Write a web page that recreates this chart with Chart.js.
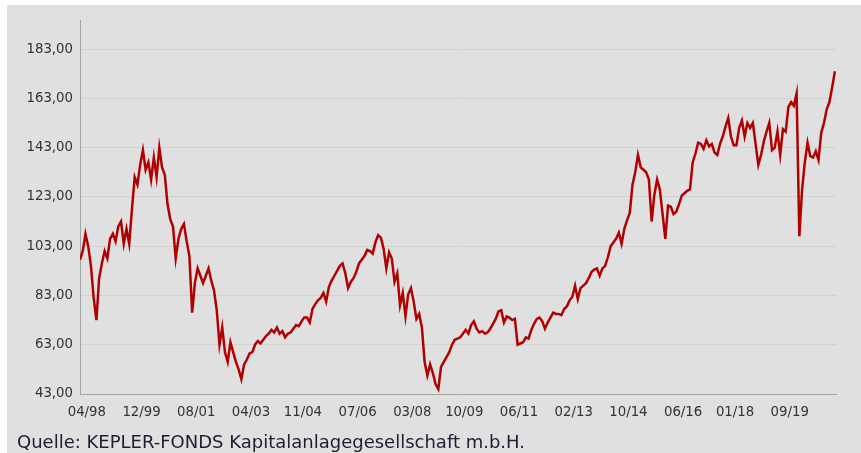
<!DOCTYPE html>
<html lang="de">
<head>
    <meta charset="UTF-8">
    <title>KEPLER-FONDS Wertentwicklung</title>
    <script src="https://cdn.jsdelivr.net/npm/chart.js"></script>
    <style>
        html, body { margin: 0; padding: 0; background: #fff; }
        body { width: 861px; height: 453px; position: relative; overflow: hidden; }
        #panel { position: absolute; left: 7px; top: 5px; right: 0; bottom: 0; background: #e0e0e0; }
        #chart { position: absolute; left: 0; top: 0; }
        #quelle {
            position: absolute; left: 17px; top: 433px;
            font: 18px/18px 'DejaVu Sans', Verdana, sans-serif;
            color: #1c1f33; white-space: nowrap;
        }
    </style>
</head>
<body>
<div id="panel"></div>
<canvas id="chart" width="861" height="453"></canvas>
<div id="quelle">Quelle: KEPLER-FONDS Kapitalanlagegesellschaft m.b.H.</div>

<script>
    // Monatswerte ab Februar 1998 (Index 0 = 02/98)
    const fundValues = [
        // 1998
        97.5, 101, 108, 103, 95, 82, 73, 90, 96, 101, 98,
        // 1999
        106, 108, 105, 111, 113, 104, 110, 104, 118, 131, 128, 136,
        // 2000
        142, 134, 137, 130, 139, 131, 143, 135, 132, 120, 114, 111,
        // 2001
        98, 106, 110, 112, 105, 99, 76, 88, 94, 91, 88, 91,
        // 2002
        94, 89, 85, 77, 63, 70, 60, 56, 64, 60, 56, 53,
        // 2003
        49, 55, 57, 59.5, 60, 63, 64.5, 63.5, 65, 66.5, 67.5, 69,
        // 2004
        68, 70, 67.5, 68.5, 66, 67.5, 68, 69.5, 71, 70.5, 72.5, 74,
        // 2005
        74, 72, 77.5, 79.5, 81, 82, 84, 80.5, 86.5, 89, 91, 93,
        // 2006
        95, 96, 92, 86, 88.5, 90, 92.5, 96, 97.5, 99, 101.5, 101,
        // 2007
        100, 104.5, 107.5, 106.5, 102, 94, 100.5, 98, 88.5, 92, 79, 84,
        // 2008
        74.5, 83.5, 86, 80.5, 73.5, 75.5, 70, 56, 50.5, 55, 51.5, 47,
        // 2009
        45, 54, 56, 58, 60, 63, 65, 65.5, 66, 67.5, 69, 67.5,
        // 2010
        71, 72.5, 69.5, 68, 68.5, 67.5, 68, 69.5, 71.5, 73.5, 76.5, 77,
        // 2011
        72, 74.5, 74, 73, 73.5, 63, 63.5, 64, 66, 65.5, 69, 71.5,
        // 2012
        73.5, 74, 72.5, 69.5, 72, 74, 76, 75.5, 75.5, 75, 77.5, 78.5,
        // 2013
        81, 82.5, 87, 81.5, 86, 87, 88, 90, 92.5, 93.5, 94, 91,
        // 2014
        94, 95, 98.5, 103, 104.5, 106, 108.5, 104, 110, 113.5, 116.5, 128,
        // 2015
        133, 140, 135, 134, 133, 130, 113, 124, 130, 126, 116, 106,
        // 2016
        119.5, 119, 116, 117, 120, 123.5, 124.5, 125.5, 126, 137, 140.5, 145,
        // 2017
        144.5, 142.5, 146, 143.5, 144.5, 141, 140, 144.5, 147.5, 151.5, 155, 147.5,
        // 2018
        144, 144, 151, 154, 147.5, 153, 151, 153, 144.5, 136, 140, 145.5,
        // 2019
        149.5, 153, 142, 143, 149.5, 140, 150.5, 149.5, 159.5, 161.5, 160, 165,
        // 2020
        107, 126, 137, 145, 139.5, 139, 141.5, 138, 149, 153, 158.5, 161.5,
        // 2021
        167.5, 174
    ];

    const xTickLabels = ['04/98', '12/99', '08/01', '04/03', '11/04', '07/06', '03/08',
        '10/09', '06/11', '02/13', '10/14', '06/16', '01/18', '09/19'];
    const yTickValues = [43, 63, 83, 103, 123, 143, 163, 183];

    const START_YEAR = 1998, START_MONTH = 2;
    const xMax = 276.4;   // Ende der Zeitachse (Monate ab 02/98)
    const yMin = 43, yMax = 194.8;

    // "MM/JJ" -> Monatsindex (Monatsmitte)
    function monthPos(label) {
        const [mm, yy] = label.split('/').map(Number);
        const year = yy > 50 ? 1900 + yy : 2000 + yy;
        return (year - START_YEAR) * 12 + (mm - START_MONTH) + 0.5;
    }

    const xTickPos = xTickLabels.map(monthPos);
    const points = fundValues.map((v, i) => ({ x: i, y: v }));

    const tickFont = { family: "'DejaVu Sans', Verdana, sans-serif", size: 13.3 };

    const ctx = document.getElementById('chart').getContext('2d');
    new Chart(ctx, {
        type: 'line',
        data: {
            datasets: [{
                data: points,
                borderColor: '#b00000',
                borderWidth: 2.5,
                pointRadius: 0,
                tension: 0,
                fill: false
            }]
        },
        options: {
            responsive: false,
            animation: false,
            devicePixelRatio: 1,
            layout: { padding: { left: 7, right: 25, top: 20, bottom: 34 } },
            plugins: {
                legend: { display: false },
                tooltip: { enabled: false }
            },
            scales: {
                x: {
                    type: 'linear',
                    min: 0,
                    max: xMax,
                    grid: { display: false },
                    border: { display: true, color: '#a4a4a4' },
                    afterBuildTicks: scale => {
                        scale.ticks = xTickPos.map(v => ({ value: v }));
                    },
                    afterFit: scale => { scale.height = 25; },
                    ticks: {
                        autoSkip: false,
                        maxRotation: 0,
                        padding: 3,
                        color: '#333',
                        font: tickFont,
                        callback: (value, index) => xTickLabels[index]
                    }
                },
                y: {
                    min: yMin,
                    max: yMax,
                    afterBuildTicks: scale => {
                        scale.ticks = yTickValues.map(v => ({ value: v }));
                    },
                    afterFit: scale => { scale.width = 73; },
                    grid: {
                        drawTicks: false,
                        color: '#d2d2d2'
                    },
                    border: { display: true, color: '#a4a4a4' },
                    ticks: {
                        padding: 7,
                        color: '#333',
                        font: tickFont,
                        callback: value => value.toFixed(2).replace('.', ',')
                    }
                }
            }
        }
    });
</script>
</body>
</html>
